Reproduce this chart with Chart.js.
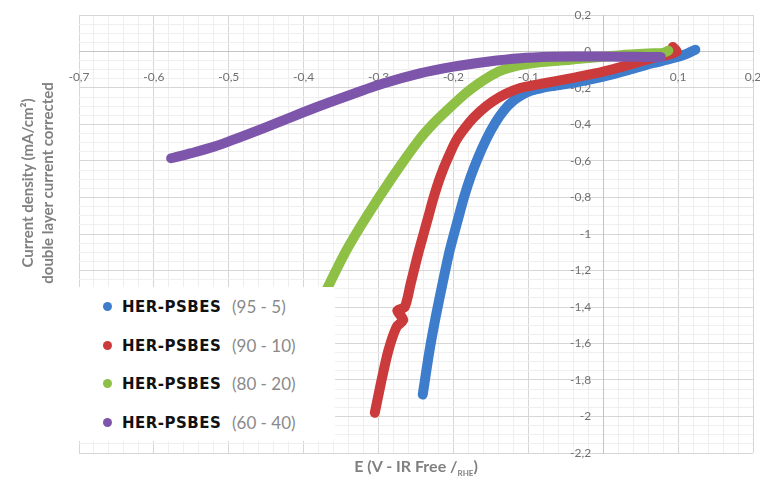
<!DOCTYPE html>
<html>
<head>
<meta charset="utf-8">
<script src="https://cdn.jsdelivr.net/npm/chart.js@4.4.1/dist/chart.umd.min.js"></script>
<style>
  html, body { margin: 0; padding: 0; background: #fff; }
  #wrap { position: relative; width: 760px; height: 481px; overflow: hidden; background: #fff; }
  #c { position: absolute; left: 0; top: 0; }
  #legend { position: absolute; left: 72px; top: 287px; width: 263px; height: 154px; background: #fff; }
  .row { position: absolute; left: 0; height: 24px; line-height: 24px; white-space: nowrap; }
  .dot { position: absolute; left: 31px; top: 7px; width: 9px; height: 9px; border-radius: 50%; }
  .name { position: absolute; left: 50px; top: 0; font-family: "DejaVu Sans", sans-serif; font-weight: bold; font-size: 15px; letter-spacing: 0.5px; color: #111; }
  .ratio { position: absolute; left: 160px; top: 0; font-family: Lato, sans-serif; font-size: 17px; color: #8a8a8a; }
  #ytitle { position: absolute; left: -83px; top: 163px; width: 240px; height: 40px; transform: rotate(-90deg); text-align: center;
            font-family: Lato, sans-serif; font-weight: bold; font-size: 15px; line-height: 20px; color: #808080; }
  #xtitle { position: absolute; left: 266px; top: 456px; width: 300px; text-align: center;
            font-family: Lato, sans-serif; font-weight: bold; font-size: 16px; color: #808080; }
  #xtitle sub { font-size: 8px; }
</style>
</head>
<body>
<div id="wrap">
  <canvas id="c" width="760" height="481"></canvas>
  <div id="legend"></div>
  <div id="ytitle">Current density (mA/cm²)<br>double layer current corrected</div>
  <div id="xtitle">E (V - IR Free /<sub>RHE</sub>)</div>
</div>
<script>
// ---- data (E in V vs RHE, current density in mA/cm²) ----
const seriesNames = ["HER-PSBES", "HER-PSBES", "HER-PSBES", "HER-PSBES"];
const seriesRatios = ["(95 - 5)", "(90 - 10)", "(80 - 20)", "(60 - 40)"];
const seriesColors = ["#3E7DCB", "#CC3B3B", "#8DC045", "#7D55AA"];

const e95 = [0.123, 0.110, 0.090, 0.067, 0.035, 0.000, -0.035, -0.065, -0.082, -0.096, -0.108, -0.120, -0.132, -0.144, -0.156, -0.167, -0.177, -0.186, -0.193, -0.205, -0.2145, -0.2235, -0.232, -0.241];
const j95 = [0.010, -0.015, -0.040, -0.063, -0.100, -0.138, -0.168, -0.188, -0.200, -0.214, -0.236, -0.270, -0.320, -0.390, -0.480, -0.580, -0.686, -0.800, -0.905, -1.090, -1.270, -1.450, -1.640, -1.880];

const e90 = [0.093, 0.098, 0.085, 0.067, 0.035, 0.000, -0.035, -0.067, -0.087, -0.111, -0.130, -0.148, -0.165, -0.179, -0.196, -0.207, -0.2175, -0.2265, -0.2335, -0.246, -0.257, -0.265, -0.275, -0.267, -0.276, -0.287, -0.297, -0.305];
const j90 = [0.025, 0.000, -0.020, -0.035, -0.072, -0.110, -0.140, -0.165, -0.180, -0.200, -0.232, -0.275, -0.330, -0.390, -0.485, -0.580, -0.686, -0.800, -0.905, -1.090, -1.270, -1.400, -1.420, -1.470, -1.510, -1.640, -1.820, -1.980];

const e80 = [0.087, 0.080, 0.067, 0.023, -0.044, -0.090, -0.111, -0.126, -0.140, -0.153, -0.168, -0.184, -0.208, -0.228, -0.246, -0.281, -0.316, -0.343, -0.364, -0.383];
const j80 = [0.005, -0.008, -0.010, -0.020, -0.045, -0.062, -0.075, -0.090, -0.110, -0.140, -0.180, -0.230, -0.320, -0.400, -0.485, -0.686, -0.905, -1.090, -1.260, -1.420];

const e60 = [0.077, 0.040, 0.000, -0.040, -0.067, -0.111, -0.155, -0.200, -0.245, -0.295, -0.340, -0.384, -0.429, -0.474, -0.519, -0.550, -0.577];
const j60 = [-0.030, -0.029, -0.028, -0.028, -0.029, -0.037, -0.056, -0.083, -0.120, -0.177, -0.241, -0.307, -0.380, -0.453, -0.521, -0.557, -0.585];

const xMin = -0.7, xMax = 0.2, xMajor = 0.1, xMinor = 0.02;
const yMin = -2.2, yMax = 0.2, yMajor = 0.2, yMinor = 0.05;

// ---- build ----
const pairs = (xs, ys) => xs.map((x, i) => ({x: x, y: ys[i]}));
const allE = [e95, e90, e80, e60];
const allJ = [j95, j90, j80, j60];

const datasets = allE.map((xs, i) => ({
  label: seriesNames[i] + " " + seriesRatios[i],
  data: pairs(xs, allJ[i]),
  borderColor: seriesColors[i],
  backgroundColor: seriesColors[i],
  borderWidth: 10,
  borderCapStyle: 'round',
  borderJoinStyle: 'round',
  pointRadius: 0,
  tension: 0.25,
  showLine: true,
  fill: false,
  order: 4 - i
}));

const isMajor = (v, step) => Math.abs(v / step - Math.round(v / step)) < 1e-6;
const fmt = (v, step) => {
  const r = Math.round(v / step) * step;
  let s = (Math.round(r * 10) / 10).toString();
  if (s === "-0") s = "0";
  return s.replace('.', ',');
};
const noPad = (s) => { s.paddingLeft = 0; s.paddingRight = 0; s.paddingTop = 0; s.paddingBottom = 0; };

new Chart(document.getElementById('c'), {
  type: 'scatter',
  data: { datasets: datasets },
  options: {
    responsive: false,
    devicePixelRatio: 1,
    animation: false,
    layout: { padding: { left: 79, right: 7, top: 15, bottom: 28 } },
    plugins: { legend: { display: false }, tooltip: { enabled: false } },
    scales: {
      x: {
        type: 'linear', min: xMin, max: xMax,
        position: { y: 0 },
        afterFit: (s) => { s.height = 0; noPad(s); },
        grid: {
          drawTicks: false,
          color: (ctx) => (ctx.tick && isMajor(ctx.tick.value, xMajor)) ? '#d6d6d6' : '#efefef',
          lineWidth: 1
        },
        border: { color: '#c4c4c4', width: 1 },
        ticks: {
          stepSize: xMinor, autoSkip: false, maxRotation: 0, padding: 18,
          color: '#707070', font: { family: 'Lato', size: 12 },
          callback: (v) => isMajor(v, xMajor) ? fmt(v, xMajor) : ''
        }
      },
      y: {
        type: 'linear', min: yMin, max: yMax,
        position: { x: 0 },
        afterFit: (s) => { s.width = 0; noPad(s); },
        grid: {
          drawTicks: false,
          color: (ctx) => (ctx.tick && isMajor(ctx.tick.value, yMajor)) ? '#d6d6d6' : '#efefef',
          lineWidth: 1
        },
        border: { color: '#c4c4c4', width: 1 },
        ticks: {
          stepSize: yMinor, autoSkip: false, padding: 15,
          color: '#707070', font: { family: 'Lato', size: 12 },
          callback: (v) => isMajor(v, yMajor) ? fmt(v, yMajor) + '\u2003 ' : ''
        }
      }
    }
  }
});

// ---- legend (HTML overlay) ----
const legend = document.getElementById('legend');
const rowTops = [8, 47, 85, 124];
seriesNames.forEach((n, i) => {
  const row = document.createElement('div');
  row.className = 'row';
  row.style.top = rowTops[i] + 'px';
  row.innerHTML = '<span class="dot" style="background:' + seriesColors[i] + '"></span>' +
                  '<span class="name">' + n + '</span>' +
                  '<span class="ratio">' + seriesRatios[i] + '</span>';
  legend.appendChild(row);
});
</script>
</body>
</html>
